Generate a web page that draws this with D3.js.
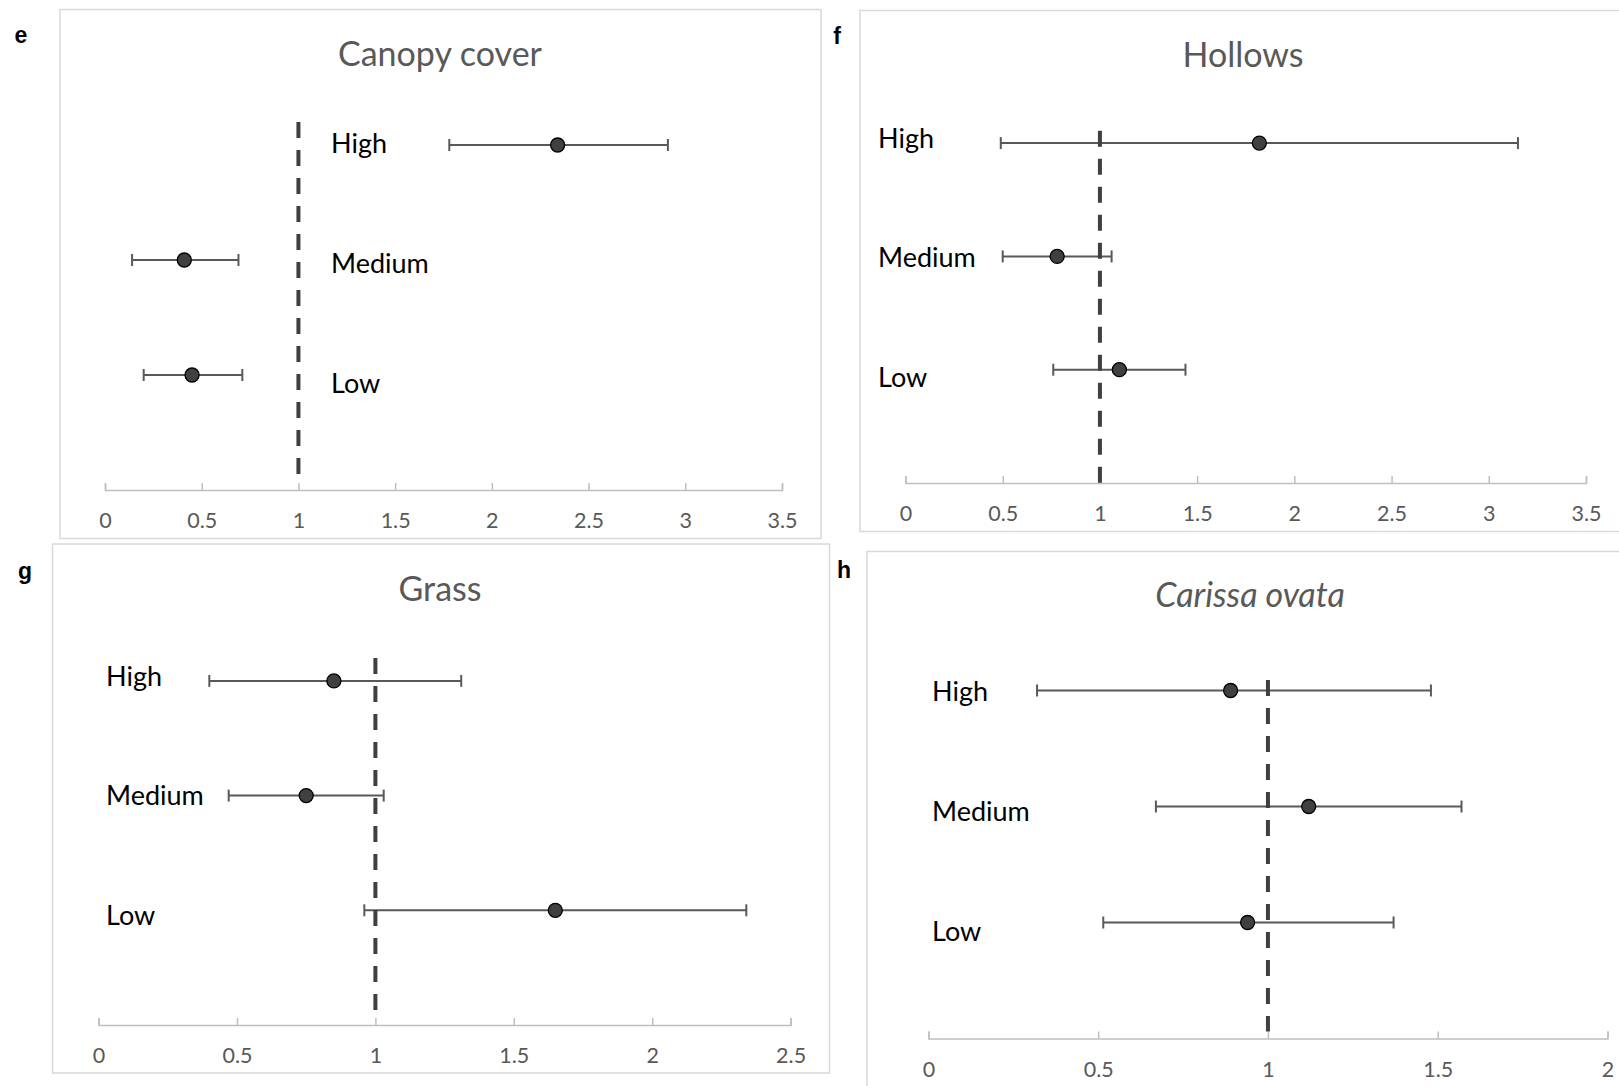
<!DOCTYPE html>
<html lang="en">
<head>
    <meta charset="UTF-8">
    <title>Odds ratios - four panels</title>
    <script src="https://d3js.org/d3.v7.min.js"></script>
    <style>
        body { margin: 0; background: #fff; }
    </style>
</head>
<body>
    <div id="chart"></div>
    <script>
        // categories, top to bottom
        const categories = ["High", "Medium", "Low"];
        const categoryLevel = [3, 2, 1];

        // e - canopy cover
        const canopyEst = [2.34, 0.41, 0.45];
        const canopyLow = [1.78, 0.14, 0.20];
        const canopyHigh = [2.91, 0.69, 0.71];

        // f - hollows
        const hollowsEst = [1.82, 0.78, 1.10];
        const hollowsLow = [0.49, 0.50, 0.76];
        const hollowsHigh = [3.15, 1.06, 1.44];

        // g - grass
        const grassEst = [0.85, 0.75, 1.65];
        const grassLow = [0.40, 0.47, 0.96];
        const grassHigh = [1.31, 1.03, 2.34];

        // h - carissa ovata
        const carissaEst = [0.89, 1.12, 0.94];
        const carissaLow = [0.32, 0.67, 0.515];
        const carissaHigh = [1.48, 1.57, 1.37];

        const panelLetters = ["e", "f", "g", "h"];
        const panelTitles = ["Canopy cover", "Hollows", "Grass", "Carissa ovata"];
        const axisMax = [3.5, 3.5, 2.5, 2];
        const tickStep = 0.5;
        const refValue = 1;

        const width = 1619;
        const height = 1086;

        // panel geometry (pixels)
        const layout = [
            { fx: 60, fy: 9.5, fw: 761, fh: 529, lx: 21, ly: 35, tx: 440, ty: 66, italic: false,
              x0: 105, x1: 782, axisY: 490, unit: 115, refTop: 3.2, refBottom: 0.14,
              labX: 331, labTop: 142.5, labBottom: 382 },
            { fx: 860, fy: 10.5, fw: 800, fh: 521, lx: 837, ly: 36, tx: 1243, ty: 67, italic: false,
              x0: 905.5, x1: 1586, axisY: 483, unit: 113.3, refTop: 3.11, refBottom: 0.0,
              labX: 878, labTop: 137, labBottom: 376 },
            { fx: 52.5, fy: 544, fw: 777, fh: 529, lx: 25, ly: 571, tx: 440, ty: 601, italic: false,
              x0: 98.6, x1: 790.6, axisY: 1025, unit: 114.7, refTop: 3.2, refBottom: 0.1,
              labX: 106, labTop: 675, labBottom: 914 },
            { fx: 867, fy: 551.5, fw: 800, fh: 600, lx: 844, ly: 570, tx: 1250, ty: 607, italic: true,
              x0: 928.4, x1: 1607.5, axisY: 1038.5, unit: 116, refTop: 3.09, refBottom: 0.06,
              labX: 932, labTop: 690, labBottom: 930 }
        ];

        const panelData = [
            { est: canopyEst, lo: canopyLow, hi: canopyHigh },
            { est: hollowsEst, lo: hollowsLow, hi: hollowsHigh },
            { est: grassEst, lo: grassLow, hi: grassHigh },
            { est: carissaEst, lo: carissaLow, hi: carissaHigh }
        ];

        const svg = d3.select("#chart").append("svg")
            .attr("width", width)
            .attr("height", height)
            .style("display", "block");

        svg.append("rect")
            .attr("width", width)
            .attr("height", height)
            .attr("fill", "#fff");

        layout.forEach((p, i) => {
            const g = svg.append("g");
            const rows = categories.map((c, k) => ({
                cat: c,
                level: categoryLevel[k],
                est: panelData[i].est[k],
                lo: panelData[i].lo[k],
                hi: panelData[i].hi[k]
            }));

            // frame
            g.append("rect")
                .attr("x", p.fx).attr("y", p.fy)
                .attr("width", p.fw).attr("height", p.fh)
                .attr("fill", "#fff")
                .attr("stroke", "#d9d9d9")
                .attr("stroke-width", 1.5);

            // panel letter
            svg.append("text")
                .attr("x", p.lx).attr("y", p.ly)
                .attr("text-anchor", "middle")
                .attr("dominant-baseline", "central")
                .style("font-family", "'Liberation Sans', Arial, sans-serif")
                .style("font-weight", "bold")
                .style("font-size", "23px")
                .text(panelLetters[i]);

            // title
            g.append("text")
                .attr("x", p.tx).attr("y", p.ty)
                .attr("text-anchor", "middle")
                .style("font-family", "Lato, sans-serif")
                .style("font-style", p.italic ? "italic" : "normal")
                .style("font-size", "34px")
                .style("fill", "#595959")
                .text(panelTitles[i]);

            const x = d3.scaleLinear().domain([0, axisMax[i]]).range([p.x0, p.x1]);
            const y = d3.scaleLinear().domain([0, 1]).range([p.axisY, p.axisY - p.unit]);
            const yLab = d3.scaleLinear().domain([3, 1]).range([p.labTop, p.labBottom]);

            // x axis, ticks pointing up
            const ticks = d3.range(0, axisMax[i] + tickStep / 2, tickStep);
            const axis = g.append("g")
                .attr("transform", `translate(0,${p.axisY})`)
                .call(d3.axisBottom(x)
                    .tickValues(ticks)
                    .tickFormat(d3.format("~g"))
                    .tickSize(-7)
                    .tickSizeOuter(-7)
                    .tickPadding(23));
            axis.select(".domain").attr("stroke", "#bfbfbf").attr("stroke-width", 1.5);
            axis.selectAll(".tick line").attr("stroke", "#bfbfbf").attr("stroke-width", 1.5);
            axis.selectAll(".tick text")
                .style("font-family", "Lato, sans-serif")
                .style("font-size", "21.5px")
                .style("fill", "#595959");

            // category labels
            g.selectAll(".cat")
                .data(rows)
                .join("text")
                .attr("x", p.labX)
                .attr("y", d => yLab(d.level))
                .attr("dominant-baseline", "central")
                .style("font-family", "Lato, sans-serif")
                .style("font-size", "27px")
                .style("fill", "#000")
                .text(d => d.cat);

            // error bars
            const bars = g.append("g")
                .attr("stroke", "#595959")
                .attr("stroke-width", 2);
            bars.selectAll(".bar")
                .data(rows)
                .join("line")
                .attr("x1", d => x(d.lo)).attr("x2", d => x(d.hi))
                .attr("y1", d => y(d.level)).attr("y2", d => y(d.level));
            bars.selectAll(".capL")
                .data(rows)
                .join("line")
                .attr("x1", d => x(d.lo)).attr("x2", d => x(d.lo))
                .attr("y1", d => y(d.level) - 6).attr("y2", d => y(d.level) + 6);
            bars.selectAll(".capR")
                .data(rows)
                .join("line")
                .attr("x1", d => x(d.hi)).attr("x2", d => x(d.hi))
                .attr("y1", d => y(d.level) - 6).attr("y2", d => y(d.level) + 6);

            // reference line at 1
            g.append("line")
                .attr("x1", x(refValue)).attr("x2", x(refValue))
                .attr("y1", y(p.refTop)).attr("y2", y(p.refBottom))
                .attr("stroke", "#404040")
                .attr("stroke-width", 4)
                .attr("stroke-dasharray", "16 12");

            // point estimates
            g.selectAll(".pt")
                .data(rows)
                .join("circle")
                .attr("cx", d => x(d.est))
                .attr("cy", d => y(d.level))
                .attr("r", 7)
                .attr("fill", "#404040")
                .attr("stroke", "#000")
                .attr("stroke-width", 1.3);
        });
    </script>
</body>
</html>
